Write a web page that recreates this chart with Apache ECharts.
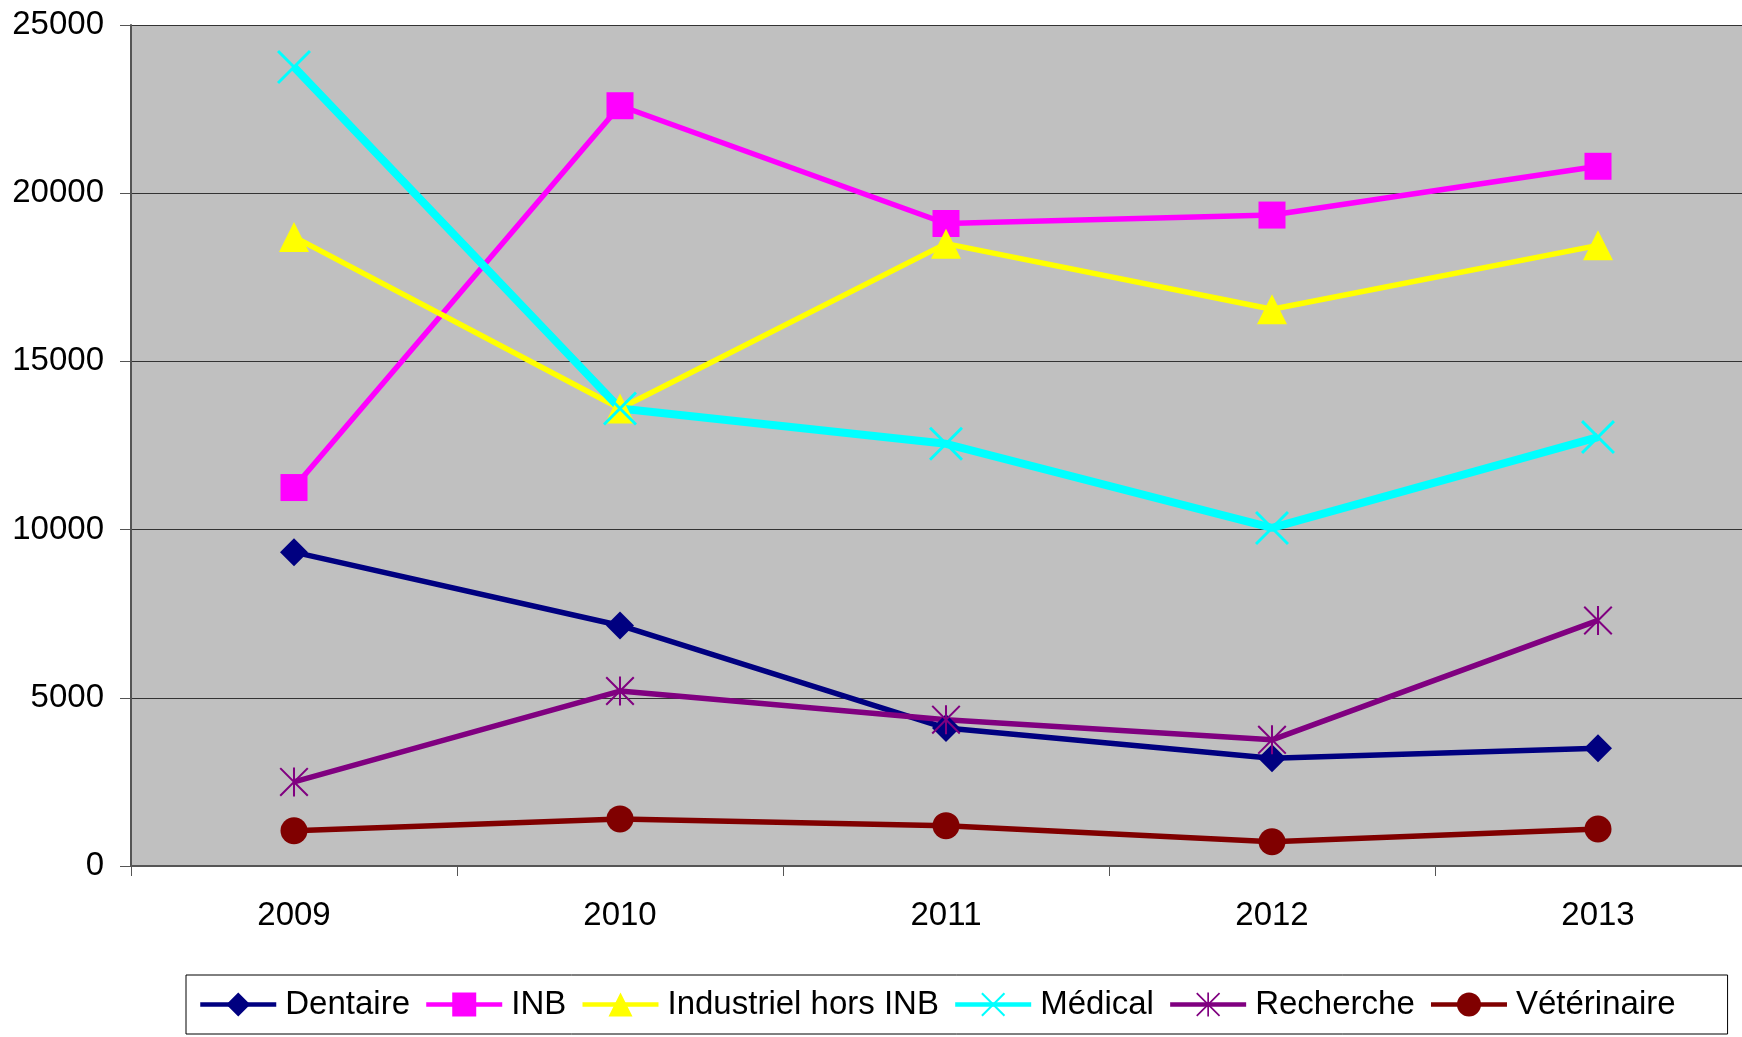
<!DOCTYPE html>
<html><head><meta charset="utf-8">
<script src="https://cdn.jsdelivr.net/npm/echarts@6/dist/echarts.min.js"></script>
<style>html,body{margin:0;padding:0;background:#fff}#c{width:1742px;height:1037px}</style>
</head><body><div id="c"></div>
<script>
var years = ['2009','2010','2011','2012','2013'];
var dentaire = [9330, 7150, 4100, 3200, 3500];
var inb = [11250, 22600, 19100, 19350, 20800];
var industriel = [18700, 13600, 18500, 16550, 18450];
var medical = [23750, 13600, 12550, 10050, 12750];
var recherche = [2500, 5200, 4350, 3750, 7300];
var veterinaire = [1050, 1400, 1200, 720, 1100];
var yTicks = [0, 5000, 10000, 15000, 20000, 25000];

var crossPath = 'path://M6,0L100,94L94,100L0,6ZM100,6L6,100L0,94L94,0Z';
var starPath = 'path://M5,0L100,95L95,100L0,5ZM100,5L5,100L0,95L95,0ZM46.5,0L53.5,0L53.5,100L46.5,100Z';

function mk(name, data, color, symbol, size, width) {
  return {
    name: name, type: 'line', data: data, symbol: symbol, symbolSize: size,
    showAllSymbol: true,
    itemStyle: { color: color },
    lineStyle: { color: color, width: width },
    emphasis: { disabled: true },
    animation: false
  };
}

var chart = echarts.init(document.getElementById('c'), null, { renderer: 'canvas' });
chart.setOption({
  animation: false,
  textStyle: { fontFamily: 'Liberation Sans, Arial, sans-serif' },
  grid: { left: 131, top: 25, width: 1630, bottom: 171, show: true, backgroundColor: '#C0C0C0', borderWidth: 0, outerBoundsMode: 'none', containLabel: false },
  legend: {
    left: 186, top: 975, width: 1484,
    padding: [13, 52, 13, 12],
    borderColor: '#000', borderWidth: 1,
    itemWidth: 76, itemHeight: 30, itemGap: 14,
    lineStyle: { width: 4.5 },
    textStyle: { fontSize: 33, color: '#000', fontFamily: 'Liberation Sans, Arial, sans-serif', padding: [0, 0, 0, 4] },
    data: ['Dentaire', 'INB', 'Industriel hors INB', 'Médical', 'Recherche', 'Vétérinaire']
  },
  xAxis: {
    type: 'category', data: years, boundaryGap: true,
    axisLine: { lineStyle: { color: '#555', width: 2 } },
    axisTick: { show: true, length: 10, lineStyle: { color: '#555', width: 1 } },
    axisLabel: { fontSize: 33, color: '#000', margin: 33 },
    splitLine: { show: false }
  },
  yAxis: {
    type: 'value', min: yTicks[0], max: yTicks[yTicks.length - 1], interval: yTicks[1] - yTicks[0],
    axisLine: { show: true, lineStyle: { color: '#555', width: 2 } },
    axisTick: { show: true, length: 11, lineStyle: { color: '#555', width: 1 } },
    axisLabel: { fontSize: 33, color: '#000', margin: 27, formatter: function (v) { return String(v); } },
    splitLine: { show: true, lineStyle: { color: '#333', width: 1 } }
  },
  series: [
    mk('Dentaire', dentaire, '#000080', 'diamond', 28, 5.5),
    mk('INB', inb, '#FF00FF', 'rect', 27, 5.5),
    mk('Industriel hors INB', industriel, '#FFFF00', 'triangle', 30, 5.5),
    mk('Médical', medical, '#00FFFF', crossPath, 34, 8),
    mk('Recherche', recherche, '#800080', starPath, 29, 5.5),
    mk('Vétérinaire', veterinaire, '#800000', 'circle', 27, 5.5)
  ]
});
</script></body></html>
